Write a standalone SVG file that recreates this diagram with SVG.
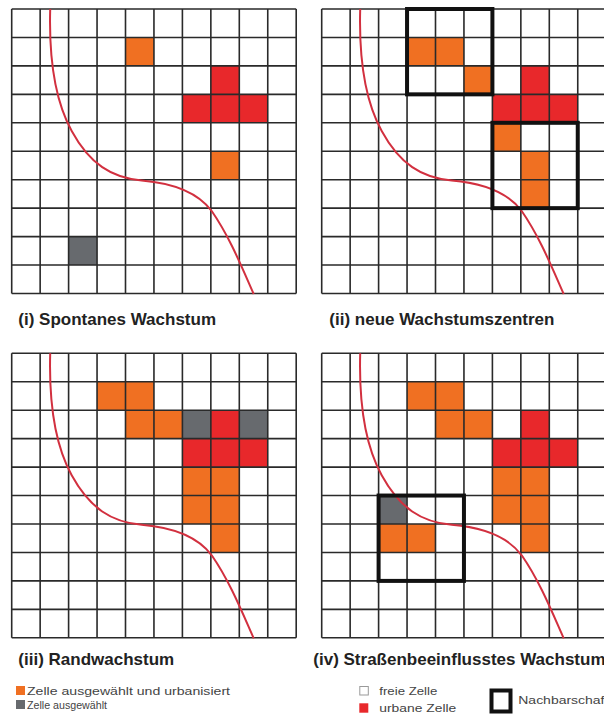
<svg xmlns="http://www.w3.org/2000/svg" xmlns:xlink="http://www.w3.org/1999/xlink" width="604" height="716" viewBox="0 0 604 716">
<style>
.o{fill:#f07022}
.r{fill:#e8282b}
.g{fill:#676a6e}
.grid{fill:none;stroke:#2a2a2a;stroke-width:1.6}
.road{fill:none;stroke:#d2303f;stroke-width:2}
.nb{fill:none;stroke:#111;stroke-width:4}
.title{font-family:"Liberation Sans",Arial,sans-serif;font-size:17px;font-weight:bold;fill:#222}
.leg{font-family:"Liberation Sans",Arial,sans-serif;font-size:11px;fill:#444}
</style>
<defs>
<path id="gridlines" class="grid" d="M0,0V284.5M28.45,0V284.5M56.9,0V284.5M85.35,0V284.5M113.8,0V284.5M142.25,0V284.5M170.7,0V284.5M199.15,0V284.5M227.6,0V284.5M256.05,0V284.5M284.5,0V284.5M0,0H284.5M0,28.45H284.5M0,56.9H284.5M0,85.35H284.5M0,113.8H284.5M0,142.25H284.5M0,170.7H284.5M0,199.15H284.5M0,227.6H284.5M0,256.05H284.5M0,284.5H284.5"/>
<path id="road" class="road" d="M38.5,0 C37,55 45,95 60,122 C78,155 100,169 130,171.5 C160,174 185,182 200,202 C218,228 230,258 242,285"/>
</defs>
<rect x="0" y="0" width="604" height="716" fill="#fff"/>

<g id="panel-i" transform="translate(11.7,9)">
<rect class="o" x="113.8" y="28.45" width="28.45" height="28.45"/>
<rect class="r" x="199.15" y="56.9" width="28.45" height="28.45"/>
<rect class="r" x="170.7" y="85.35" width="28.45" height="28.45"/>
<rect class="r" x="199.15" y="85.35" width="28.45" height="28.45"/>
<rect class="r" x="227.6" y="85.35" width="28.45" height="28.45"/>
<rect class="o" x="199.15" y="142.25" width="28.45" height="28.45"/>
<rect class="g" x="56.9" y="227.6" width="28.45" height="28.45"/>
<use xlink:href="#gridlines" href="#gridlines"/>
<use xlink:href="#road" href="#road"/>
</g>

<g id="panel-ii" transform="translate(321.7,9)">
<rect class="o" x="85.35" y="28.45" width="28.45" height="28.45"/>
<rect class="o" x="113.8" y="28.45" width="28.45" height="28.45"/>
<rect class="o" x="142.25" y="56.9" width="28.45" height="28.45"/>
<rect class="r" x="199.15" y="56.9" width="28.45" height="28.45"/>
<rect class="r" x="170.7" y="85.35" width="28.45" height="28.45"/>
<rect class="r" x="199.15" y="85.35" width="28.45" height="28.45"/>
<rect class="r" x="227.6" y="85.35" width="28.45" height="28.45"/>
<rect class="o" x="170.7" y="113.8" width="28.45" height="28.45"/>
<rect class="o" x="199.15" y="142.25" width="28.45" height="28.45"/>
<rect class="o" x="199.15" y="170.7" width="28.45" height="28.45"/>
<use xlink:href="#gridlines" href="#gridlines"/>
<use xlink:href="#road" href="#road"/>
<rect class="nb" x="85.35" y="0" width="85.35" height="85.35"/>
<rect class="nb" x="170.7" y="113.8" width="85.35" height="85.35"/>
</g>

<g id="panel-iii" transform="translate(11.7,353.3)">
<rect class="o" x="85.35" y="28.45" width="28.45" height="28.45"/>
<rect class="o" x="113.8" y="28.45" width="28.45" height="28.45"/>
<rect class="o" x="113.8" y="56.9" width="28.45" height="28.45"/>
<rect class="o" x="142.25" y="56.9" width="28.45" height="28.45"/>
<rect class="g" x="170.7" y="56.9" width="28.45" height="28.45"/>
<rect class="r" x="199.15" y="56.9" width="28.45" height="28.45"/>
<rect class="g" x="227.6" y="56.9" width="28.45" height="28.45"/>
<rect class="r" x="170.7" y="85.35" width="28.45" height="28.45"/>
<rect class="r" x="199.15" y="85.35" width="28.45" height="28.45"/>
<rect class="r" x="227.6" y="85.35" width="28.45" height="28.45"/>
<rect class="o" x="170.7" y="113.8" width="28.45" height="28.45"/>
<rect class="o" x="199.15" y="113.8" width="28.45" height="28.45"/>
<rect class="o" x="170.7" y="142.25" width="28.45" height="28.45"/>
<rect class="o" x="199.15" y="142.25" width="28.45" height="28.45"/>
<rect class="o" x="199.15" y="170.7" width="28.45" height="28.45"/>
<use xlink:href="#gridlines" href="#gridlines"/>
<use xlink:href="#road" href="#road"/>
</g>

<g id="panel-iv" transform="translate(321.7,353.3)">
<rect class="o" x="85.35" y="28.45" width="28.45" height="28.45"/>
<rect class="o" x="113.8" y="28.45" width="28.45" height="28.45"/>
<rect class="o" x="113.8" y="56.9" width="28.45" height="28.45"/>
<rect class="o" x="142.25" y="56.9" width="28.45" height="28.45"/>
<rect class="r" x="199.15" y="56.9" width="28.45" height="28.45"/>
<rect class="r" x="170.7" y="85.35" width="28.45" height="28.45"/>
<rect class="r" x="199.15" y="85.35" width="28.45" height="28.45"/>
<rect class="r" x="227.6" y="85.35" width="28.45" height="28.45"/>
<rect class="o" x="170.7" y="113.8" width="28.45" height="28.45"/>
<rect class="o" x="199.15" y="113.8" width="28.45" height="28.45"/>
<rect class="o" x="170.7" y="142.25" width="28.45" height="28.45"/>
<rect class="o" x="199.15" y="142.25" width="28.45" height="28.45"/>
<rect class="o" x="199.15" y="170.7" width="28.45" height="28.45"/>
<rect class="g" x="56.9" y="142.25" width="28.45" height="28.45"/>
<rect class="o" x="56.9" y="170.7" width="28.45" height="28.45"/>
<rect class="o" x="85.35" y="170.7" width="28.45" height="28.45"/>
<use xlink:href="#gridlines" href="#gridlines"/>
<use xlink:href="#road" href="#road"/>
<rect class="nb" x="56.9" y="142.25" width="85.35" height="85.35"/>
</g>

<g id="titles">
<text class="title" x="18.3" y="325">(i) Spontanes Wachstum</text>
<text class="title" x="329.3" y="325">(ii) neue Wachstumszentren</text>
<text class="title" x="18.3" y="665">(iii) Randwachstum</text>
<text class="title" x="313.3" y="665">(iv) Straßenbeeinflusstes Wachstum</text>
</g>

<g id="legend-selected-urbanized">
<rect class="o" x="16" y="686" width="9" height="9"/>
<text class="leg" x="27" y="694.5" textLength="203" lengthAdjust="spacingAndGlyphs">Zelle ausgewählt und urbanisiert</text>
</g>
<g id="legend-selected">
<rect class="g" x="16" y="700" width="9" height="9"/>
<text class="leg" x="27" y="708.5" textLength="80" lengthAdjust="spacingAndGlyphs">Zelle ausgewählt</text>
</g>
<g id="legend-free">
<rect x="359.8" y="686.5" width="8.5" height="8.5" fill="#fff" stroke="#999" stroke-width="1"/>
<text class="leg" x="379.3" y="694.5" textLength="58" lengthAdjust="spacingAndGlyphs">freie Zelle</text>
</g>
<g id="legend-urban">
<rect class="r" x="359.3" y="703.3" width="9" height="9.4"/>
<text class="leg" x="379.3" y="711.7" textLength="77" lengthAdjust="spacingAndGlyphs">urbane Zelle</text>
</g>
<g id="legend-neighbourhood">
<rect class="nb" x="491.5" y="690.5" width="19" height="21"/>
<text class="leg" x="518.3" y="703.5" textLength="90" lengthAdjust="spacingAndGlyphs">Nachbarschaft</text>
</g>
</svg>
